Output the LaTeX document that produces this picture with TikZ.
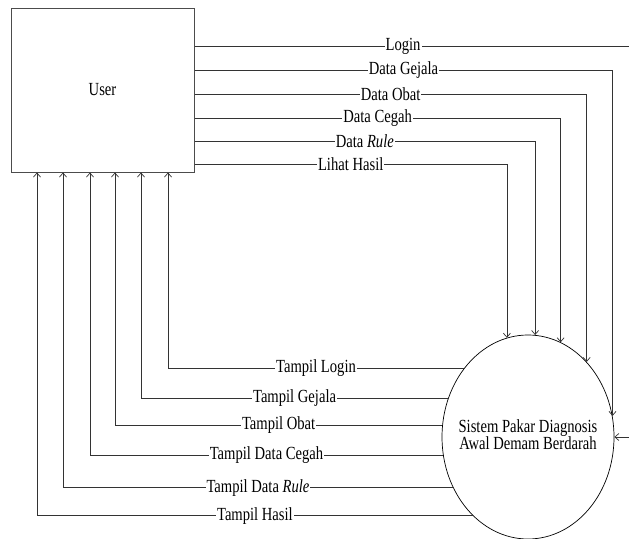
\documentclass[tikz,border=0pt]{standalone}
\usepackage{fontspec}
\usepackage{graphicx}
\setmainfont{Liberation Serif}
\newcommand\sq[1]{\scalebox{0.79}[1]{#1}}
\usetikzlibrary{arrows.meta,shapes.geometric}
\begin{document}
\begin{tikzpicture}[x=1pt,y=-1pt,
  flow/.style={draw=black!80, line width=0.7pt, -{Straight Barb[length=4pt,width=7pt]}},
  plain/.style={draw=black!80, line width=0.7pt},
  lbl/.style={fill=white, inner xsep=1pt, inner ysep=0pt, font=\fontsize{18.5}{16}\selectfont},
  entity/.style={draw=black!70, line width=1pt, minimum width=183pt, minimum height=164pt, inner sep=0pt, font=\fontsize{18.5}{16}\selectfont},
  proc/.style={draw=black, line width=0.7pt, ellipse, minimum width=172pt, minimum height=204pt, inner xsep=-40pt, inner ysep=0pt, font=\fontsize{18.5}{16}\selectfont}]
\useasboundingbox (0,0) rectangle (629,538);
\clip (0,0) rectangle (629,538);
\fill[white] (0,0) rectangle (629,538);

\node[entity] (user) at (102.5,90) {\sq{User}};
\node[proc] (sys) at (528,437) {\sq{\begin{tabular}{@{}c@{}}Sistem Pakar Diagnosis\\Awal Demam Berdarah\end{tabular}}};

% y levels of outgoing flows
\coordinate (yA) at (0,46);
\coordinate (yB) at (0,70);
\coordinate (yC) at (0,94);
\coordinate (yD) at (0,118);
\coordinate (yE) at (0,141);
\coordinate (yF) at (0,164);
\coordinate (loginEnd) at (629,46);
\coordinate (loginIn) at (629,437);

% x levels of returning flows
\coordinate (xA) at (168,0);
\coordinate (xB) at (141,0);
\coordinate (xC) at (115,0);
\coordinate (xD) at (90,0);
\coordinate (xE) at (63,0);
\coordinate (xF) at (37,0);

% outgoing flows
\draw[plain] (user.east |- yA) -- node[lbl, pos=0.48] {\sq{Login}} (loginEnd);
\draw[flow] (loginIn) -- (sys.east);
\draw[flow] (user.east |- yB) -| node[lbl, pos=0.25] {\sq{Data Gejala}} (sys.14.5);
\draw[flow] (user.east |- yC) -| node[lbl, pos=0.25] {\sq{Data Obat}} (sys.52.1);
\draw[flow] (user.east |- yD) -| node[lbl, pos=0.25] {\sq{Data Cegah}} (sys.71.3);
\draw[flow] (user.east |- yE) -| node[lbl, pos=0.25] {\sq{Data \textit{Rule}}} (sys.86.6);
\draw[flow] (user.east |- yF) -| node[lbl, pos=0.25] {\sq{Lihat Hasil}} (sys.102);

% returning flows
\draw[flow] (sys.133.3) -| node[lbl, pos=0.25] {\sq{Tampil Login}} (user.south -| xA);
\draw[flow] (sys.154.5) -| node[lbl, pos=0.25] {\sq{Tampil Gejala}} (user.south -| xB);
\draw[flow] (sys.172) -| node[lbl, pos=0.25] {\sq{Tampil Obat}} (user.south -| xC);
\draw[flow] (sys.192.7) -| node[lbl, pos=0.25] {\sq{Tampil Data Cegah}} (user.south -| xD);
\draw[flow] (sys.214.4) -| node[lbl, pos=0.25] {\sq{Tampil Data \textit{Rule}}} (user.south -| xE);
\draw[flow] (sys.235.4) -| node[lbl, pos=0.25] {\sq{Tampil Hasil}} (user.south -| xF);
\end{tikzpicture}
\end{document}
